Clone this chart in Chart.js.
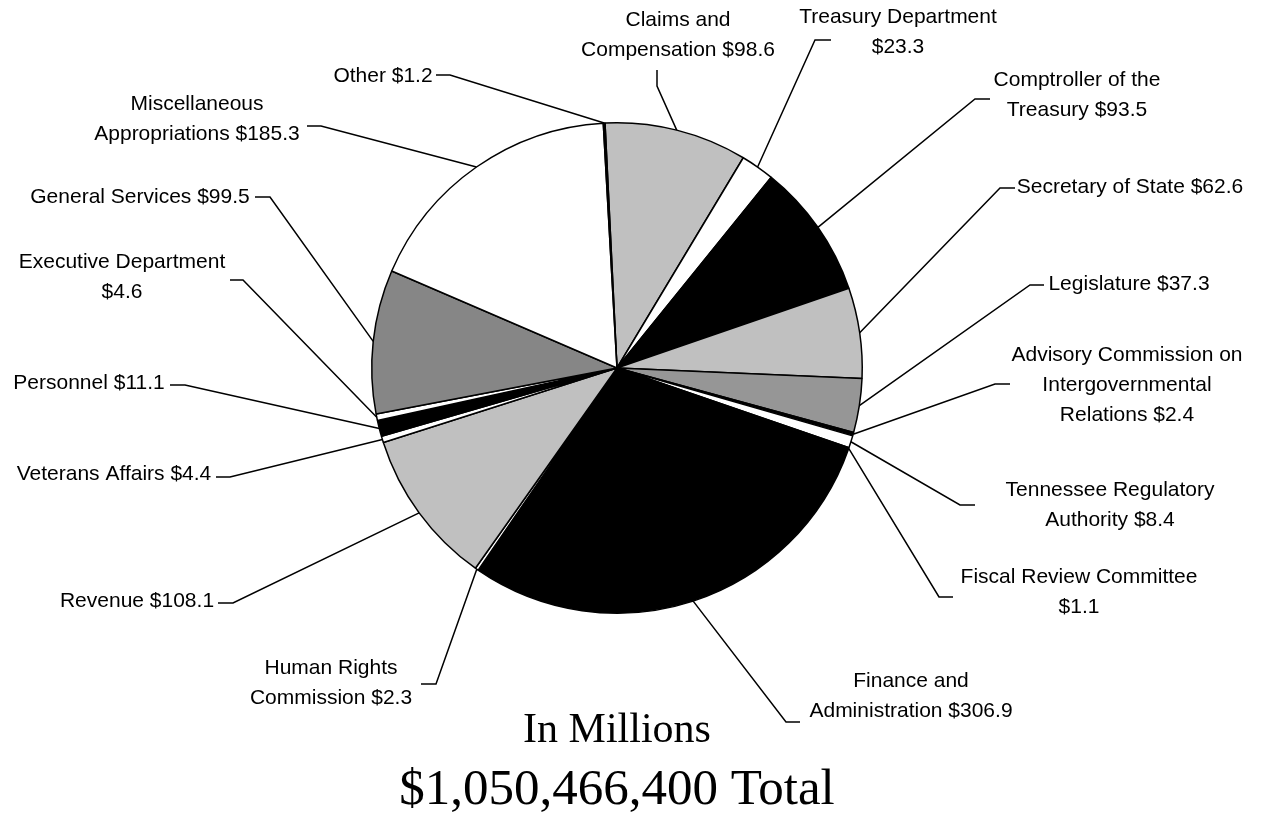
<!DOCTYPE html>
<html>
<head>
<meta charset="utf-8">
<title>General Government Budget</title>
<script src="https://cdn.jsdelivr.net/npm/chart.js@4/dist/chart.umd.min.js"></script>
<style>
  html, body { margin: 0; padding: 0; background: #fff; }
  #budget-chart { display: block; }
</style>
</head>
<body>
<canvas id="budget-chart" width="1269" height="833"></canvas>
<script>
// Departments, clockwise from the top of the pie
const categories = [
    'Claims and Compensation', 'Treasury Department', 'Comptroller of the Treasury',
    'Secretary of State', 'Legislature', 'Advisory Commission on Intergovernmental Relations',
    'Tennessee Regulatory Authority', 'Fiscal Review Committee', 'Finance and Administration',
    'Human Rights Commission', 'Revenue', 'Veterans Affairs', 'Personnel',
    'Executive Department', 'General Services', 'Miscellaneous Appropriations', 'Other'
];
// millions of dollars
const amounts = [98.6, 23.3, 93.5, 62.6, 37.3, 2.4, 8.4, 1.1, 306.9, 2.3, 108.1, 4.4, 11.1, 4.6, 99.5, 185.3, 1.2];

const sliceColors = [
    '#c0c0c0', '#ffffff', '#000000', '#c0c0c0', '#969696', '#000000', '#ffffff', '#000000',
    '#000000', '#ffffff', '#c0c0c0', '#ffffff', '#000000', '#ffffff', '#868686', '#ffffff', '#000000'
];

// how each label wraps; {v} is replaced by the amount
const labelLines = [
    ['Claims and', 'Compensation {v}'],
    ['Treasury Department', '{v}'],
    ['Comptroller of the', 'Treasury {v}'],
    ['Secretary of State {v}'],
    ['Legislature {v}'],
    ['Advisory Commission on', 'Intergovernmental', 'Relations {v}'],
    ['Tennessee Regulatory', 'Authority {v}'],
    ['Fiscal Review Committee', '{v}'],
    ['Finance and', 'Administration {v}'],
    ['Human Rights', 'Commission {v}'],
    ['Revenue {v}'],
    ['Veterans Affairs {v}'],
    ['Personnel {v}'],
    ['Executive Department', '{v}'],
    ['General Services {v}'],
    ['Miscellaneous', 'Appropriations {v}'],
    ['Other {v}']
];

// label placement: text block centre (x, first line y), leader tail and elbow
const labelPlacement = [
    { x: 678, y: 20, tail: [657, 70], elbow: [657, 86] },
    { x: 898, y: 17, tail: [831, 40], elbow: [815, 40] },
    { x: 1077, y: 80, tail: [990, 99], elbow: [975, 99] },
    { x: 1130, y: 187, tail: [1015, 188], elbow: [1000, 188] },
    { x: 1129, y: 284, tail: [1044, 285], elbow: [1030, 285] },
    { x: 1127, y: 355, tail: [1010, 384], elbow: [995, 384] },
    { x: 1110, y: 490, tail: [975, 505], elbow: [960, 505] },
    { x: 1079, y: 577, tail: [953, 597], elbow: [939, 597] },
    { x: 911, y: 681, tail: [800, 722], elbow: [786, 722] },
    { x: 331, y: 668, tail: [421, 684], elbow: [436, 684] },
    { x: 137, y: 601, tail: [218, 603], elbow: [233, 603] },
    { x: 114, y: 474, tail: [216, 477], elbow: [230, 477] },
    { x: 89, y: 383, tail: [170, 385], elbow: [185, 385] },
    { x: 122, y: 262, tail: [230, 280], elbow: [243, 280] },
    { x: 140, y: 197, tail: [255, 197], elbow: [270, 197] },
    { x: 197, y: 104, tail: [307, 126], elbow: [321, 126] },
    { x: 383, y: 76, tail: [436, 75], elbow: [450, 75] }
];

const LINE_GAP = 30;

const sliceLabels = {
    id: 'sliceLabels',
    afterDraw(chart) {
        const ctx = chart.ctx;
        const arcs = chart.getDatasetMeta(0).data;
        ctx.save();
        ctx.strokeStyle = '#000';
        ctx.lineWidth = 1.5;
        ctx.fillStyle = '#000';
        ctx.font = '21px "Liberation Sans", Arial, sans-serif';
        ctx.textAlign = 'center';
        ctx.textBaseline = 'middle';

        arcs.forEach((arc, i) => {
            const p = arc.getProps(['x', 'y', 'startAngle', 'endAngle', 'outerRadius'], true);
            const mid = (p.startAngle + p.endAngle) / 2;
            const ex = p.x + Math.cos(mid) * p.outerRadius;
            const ey = p.y + Math.sin(mid) * p.outerRadius;
            const place = labelPlacement[i];

            ctx.beginPath();
            ctx.moveTo(ex, ey);
            ctx.lineTo(place.elbow[0], place.elbow[1]);
            ctx.lineTo(place.tail[0], place.tail[1]);
            ctx.stroke();

            const value = '$' + amounts[i].toFixed(1);
            labelLines[i].forEach((line, j) => {
                ctx.fillText(line.replace('{v}', value), place.x, place.y + j * LINE_GAP);
            });
        });

        // caption under the pie
        const cx = (chart.chartArea.left + chart.chartArea.right) / 2;
        ctx.font = '42px "Liberation Serif", "Times New Roman", serif';
        ctx.fillText('In Millions', cx, 731);
        ctx.font = '51px "Liberation Serif", "Times New Roman", serif';
        ctx.fillText('$1,050,466,400 Total', cx, 791);
        ctx.restore();
    }
};

const ctx = document.getElementById('budget-chart').getContext('2d');
const budgetChart = new Chart(ctx, {
    type: 'pie',
    data: {
        labels: categories,
        datasets: [{
            data: amounts,
            backgroundColor: sliceColors,
            borderColor: '#000000',
            borderWidth: 1.5,
            hoverOffset: 0
        }]
    },
    options: {
        responsive: false,
        animation: false,
        events: [],
        rotation: -2.8,
        layout: {
            padding: { left: 371, right: 406, top: 122, bottom: 219 }
        },
        plugins: {
            legend: { display: false },
            tooltip: { enabled: false },
            title: { display: false }
        }
    },
    plugins: [sliceLabels]
});
</script>
</body>
</html>
